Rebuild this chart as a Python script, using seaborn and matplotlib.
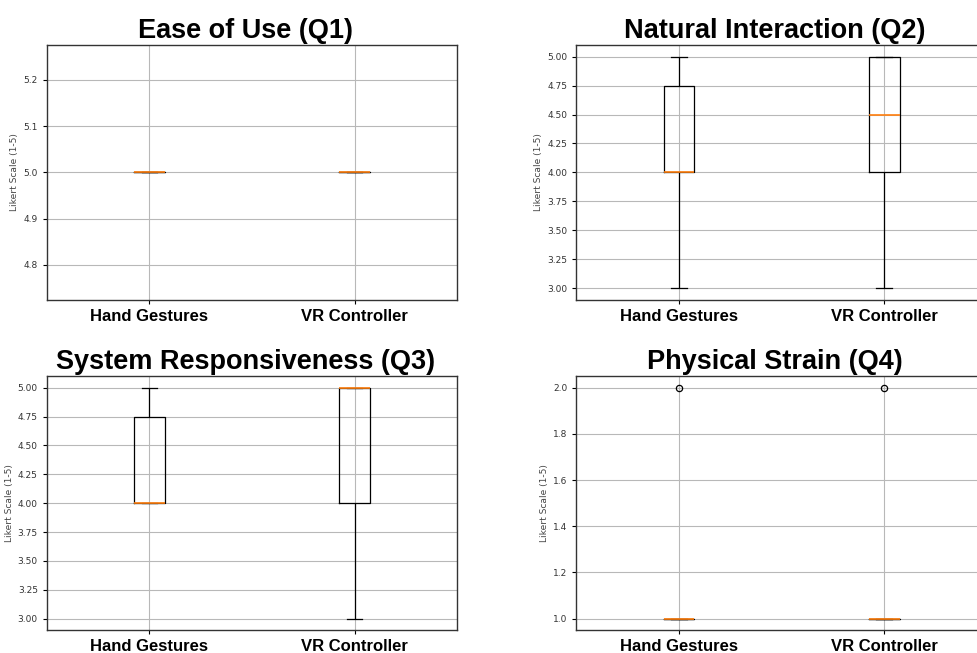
import pandas as pd
import matplotlib.pyplot as plt
import seaborn as sns

# Likert responses (1-5) per question and input method
groups = ["Hand Gestures", "VR Controller"]

q1_hand = [5, 5, 5, 5, 5, 5, 5, 5, 5, 5]
q1_vr = [5, 5, 5, 5, 5, 5, 5, 5, 5, 5]
q2_hand = [3, 4, 4, 4, 4, 4, 4, 5, 5, 5]
q2_vr = [3, 4, 4, 4, 4, 5, 5, 5, 5, 5]
q3_hand = [4, 4, 4, 4, 4, 4, 4, 5, 5, 5]
q3_vr = [3, 4, 4, 4, 5, 5, 5, 5, 5, 5]
q4_hand = [1, 1, 1, 1, 1, 1, 1, 1, 1, 2]
q4_vr = [1, 1, 1, 1, 1, 1, 1, 1, 1, 2]

titles = ["Ease of Use (Q1)", "Natural Interaction (Q2)",
          "System Responsiveness (Q3)", "Physical Strain (Q4)"]
responses = [(q1_hand, q1_vr), (q2_hand, q2_vr), (q3_hand, q3_vr), (q4_hand, q4_vr)]

plt.rcParams['font.family'] = ['Liberation Sans', 'DejaVu Sans']

fig = plt.figure(figsize=(9.77, 6.53), dpi=100)

# axes boxes in figure fractions (right column runs off the edge like the reference)
positions = [
    [0.048, 0.541, 0.420, 0.390],
    [0.590, 0.541, 0.420, 0.390],
    [0.048, 0.035, 0.420, 0.389],
    [0.590, 0.035, 0.420, 0.389],
]

for pos, title, (hand, vr) in zip(positions, titles, responses):
    ax = fig.add_axes(pos)
    df = pd.DataFrame({
        "Method": [groups[0]] * len(hand) + [groups[1]] * len(vr),
        "Score": hand + vr,
    })
    sns.boxplot(data=df, x="Method", y="Score", order=groups, ax=ax,
                width=0.15, fill=False, color="black", linewidth=0.9,
                medianprops=dict(color="#ff7f0e", linewidth=1.2),
                flierprops=dict(marker="o", markerfacecolor="none",
                                markeredgecolor="black", markersize=4.5,
                                markeredgewidth=0.9))
    ax.grid(True, color="#b8b8b8", linewidth=0.8)
    ax.set_axisbelow(True)
    ax.set_title(title, fontsize=19.5, fontweight="bold", pad=5, x=0.483)
    ax.set_xlabel("")
    ax.set_ylabel("Likert Scale (1-5)", fontsize=6.6, family="DejaVu Sans",
                  color="#444444", labelpad=3)
    ax.tick_params(axis="y", labelsize=6.5, length=3, labelcolor="#333333")
    ax.tick_params(axis="x", labelsize=12, length=3)
    for lbl in ax.get_yticklabels():
        lbl.set_family("DejaVu Sans")
    for lbl in ax.get_xticklabels():
        lbl.set_fontweight("bold")
    for s in ax.spines.values():
        s.set_color("#333333")
        s.set_linewidth(1.0)

fig.savefig("out.png", dpi=100)
